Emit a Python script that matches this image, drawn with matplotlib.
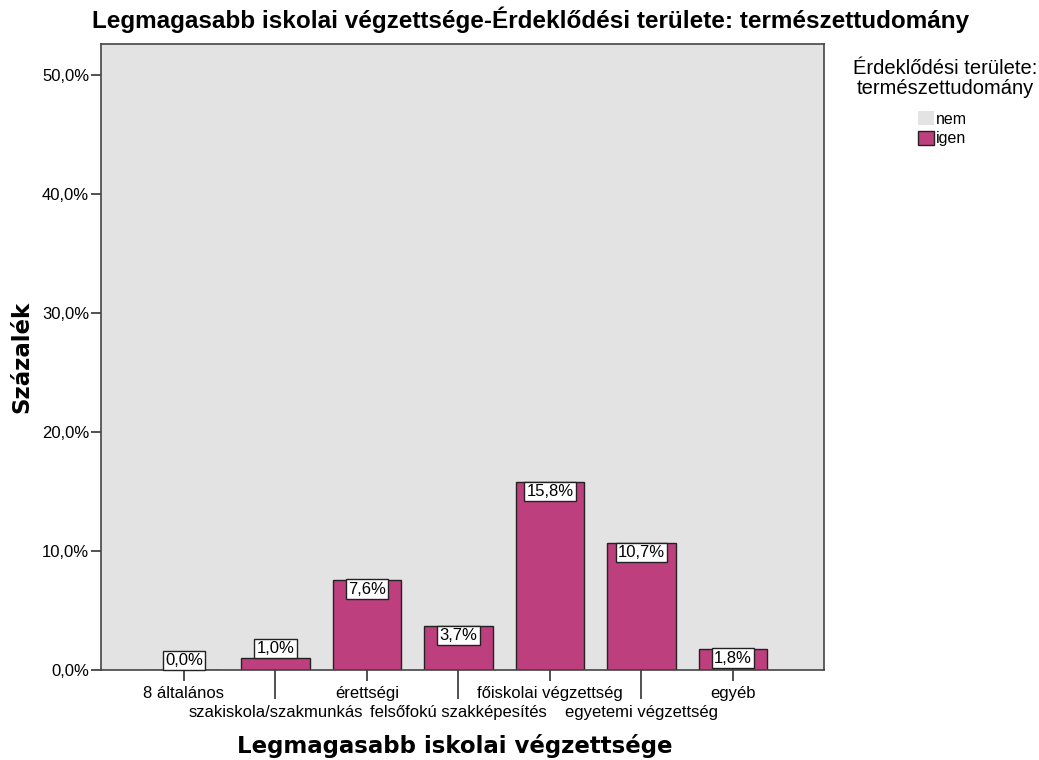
import matplotlib.pyplot as plt
from matplotlib.patches import Patch

plt.rcParams['font.family'] = ['Liberation Sans', 'DejaVu Sans']

# categories and percentages (igen)
categories = ["8 általános", "szakiskola/szakmunkás", "érettségi",
              "felsőfokú szakképesítés", "főiskolai végzettség",
              "egyetemi végzettség", "egyéb"]
igen_pct = [0.0, 1.0, 7.6, 3.7, 15.8, 10.7, 1.8]
legend_labels = ["nem", "igen"]
y_ticks = [0, 10, 20, 30, 40, 50]

bar_color = '#BE3F7E'
bg_color = '#E3E3E3'
edge = '#222222'

W, H = 1039, 760
fig = plt.figure(figsize=(W / 100, H / 100), dpi=100)
ax = fig.add_axes([101 / W, 1 - 670 / H, 723 / W, 626 / H])
ax.set_facecolor(bg_color)

x = list(range(len(categories)))
ax.bar(x, igen_pct, width=0.75, color=bar_color, edgecolor=edge,
       linewidth=1.0, zorder=2)

# value labels in white boxes: inside the bar top when it fits, else above
for xi, v in zip(x, igen_pct):
    txt = f"{v:.1f}%".replace('.', ',')
    inside = v >= 1.5
    ax.annotate(txt, (xi, v), xytext=(0, -1.5 if inside else 1.5),
                textcoords='offset points', ha='center',
                va='top' if inside else 'bottom', fontsize=12, zorder=3,
                bbox=dict(boxstyle='square,pad=0.13', facecolor='white',
                          edgecolor=edge, linewidth=1.0))

ax.set_xlim(-0.906, 6.995)
ax.set_ylim(0, 52.6)

ax.set_yticks(y_ticks, labels=[f"{t:.1f}%".replace('.', ',') for t in y_ticks])
ax.tick_params(axis='y', length=7.5, width=1.2, color='#333333',
               labelsize=12, pad=1)

# alternate short/long ticks so long labels don't overlap
even = x[0::2]
odd = x[1::2]
ax.set_xticks(even, labels=[categories[i] for i in even])
ax.set_xticks(odd, labels=[categories[i] for i in odd], minor=True)
ax.tick_params(axis='x', which='major', length=8, width=1.2, color='#333333',
               labelsize=12, pad=3.5)
ax.tick_params(axis='x', which='minor', length=21, width=1.2, color='#333333',
               labelsize=12, pad=4.5)

for s in ax.spines.values():
    s.set_color('#444444')
    s.set_linewidth(1.2)

fig.text(531 / W, 1 - 28 / H,
         'Legmagasabb iskolai végzettsége-Érdeklődési területe: természettudomány',
         ha='center', va='baseline', fontsize=17.5, fontweight='bold')
fig.text(455 / W, 1 - 753 / H, 'Legmagasabb iskolai végzettsége',
         ha='center', va='baseline', fontsize=16.5, fontweight='bold',
         family='DejaVu Sans')
fig.text(22 / W, 1 - 357 / H, 'Százalék', rotation=90,
         ha='center', va='center', fontsize=16.5, fontweight='bold',
         family='DejaVu Sans')

# legend
fig.text(945 / W, 1 - 94 / H, 'Érdeklődési területe:\ntermészettudomány',
         ha='center', va='baseline', fontsize=14.5, linespacing=1.1,
         multialignment='center')
handles = [Patch(facecolor=bg_color, edgecolor='none'),
           Patch(facecolor=bar_color, edgecolor=edge)]
fig.legend(handles, legend_labels, loc='upper left',
           bbox_to_anchor=(918 / W, 1 - 111 / H), borderaxespad=0,
           borderpad=0, frameon=False, fontsize=11.5,
           handlelength=1.0, handleheight=1.0, handletextpad=0.12,
           labelspacing=0.25)

fig.savefig('out.png', dpi=100)
